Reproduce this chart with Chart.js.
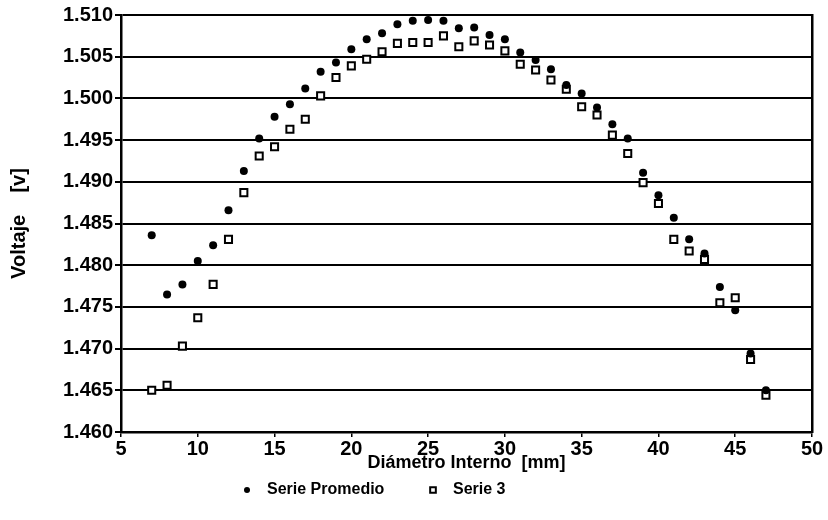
<!DOCTYPE html>
<html>
<head>
<meta charset="utf-8">
<script src="https://cdn.jsdelivr.net/npm/chart.js@4/dist/chart.umd.min.js"></script>
<style>
  html, body { margin: 0; padding: 0; background: #fff; }
  #wrap { width: 828px; height: 520px; }
</style>
</head>
<body>
<div id="wrap"><canvas id="voltChart" width="828" height="520"></canvas></div>
<script>
// --------------------
// Data
// --------------------
const diametros = [7, 8, 9, 10, 11, 12, 13, 14, 15, 16, 17, 18, 19, 20, 21, 22, 23, 24, 25, 26, 27,
  28, 29, 30, 31, 32, 33, 34, 35, 36, 37, 38, 39, 40, 41, 42, 43, 44, 45, 46, 47];

const seriePromedio = [1.4836, 1.4765, 1.4777, 1.4805, 1.4824, 1.4866, 1.4913, 1.4952, 1.4978, 1.4993,
  1.5012, 1.5032, 1.5043, 1.5059, 1.5071, 1.5078, 1.5089, 1.5093, 1.5094, 1.5093, 1.5084,
  1.5085, 1.5076, 1.5071, 1.5055, 1.5046, 1.5035, 1.5016, 1.5006, 1.4989, 1.4969, 1.4952,
  1.4911, 1.4884, 1.4857, 1.4831, 1.4814, 1.4774, 1.4746, 1.4694, 1.4650];

const serie3 = [1.4650, 1.4656, 1.4703, 1.4737, 1.4777, 1.4831, 1.4887, 1.4931, 1.4942, 1.4963,
  1.4975, 1.5003, 1.5025, 1.5039, 1.5047, 1.5056, 1.5066, 1.5067, 1.5067, 1.5075, 1.5062,
  1.5069, 1.5064, 1.5057, 1.5041, 1.5034, 1.5022, 1.5011, 1.4990, 1.4980, 1.4956, 1.4934,
  1.4899, 1.4874, 1.4831, 1.4817, 1.4807, 1.4755, 1.4761, 1.4687, 1.4644];

const X_MIN = 5, X_MAX = 50, X_STEP = 5;
const Y_MIN = 1.460, Y_MAX = 1.510, Y_STEP = 0.005;

const FONT = '"Liberation Sans", Arial, sans-serif';

function toPoints(xs, ys) {
  return xs.map((x, i) => ({ x: x, y: ys[i] }));
}

// --------------------
// Legend under the axis title (drawn by hand so the spacing stays tight)
// --------------------
const bottomLegend = {
  id: "bottomLegend",
  afterDraw(chart, args, opts) {
    const c = chart.ctx;
    c.save();
    chart.data.datasets.forEach((ds, i) => {
      const x = opts.xs[i];
      c.fillStyle = ds.backgroundColor;
      c.strokeStyle = ds.borderColor;
      c.lineWidth = ds.borderWidth;
      Chart.helpers.drawPoint(c, {
        pointStyle: ds.pointStyle,
        radius: opts.radius[i],
        borderWidth: ds.borderWidth,
        rotation: 0
      }, x, opts.y);
      c.fillStyle = "#000";
      c.font = "bold 16px " + FONT;
      c.textBaseline = "middle";
      c.fillText(ds.label, x + 20, opts.y);
    });
    c.restore();
  }
};

// --------------------
// Chart
// --------------------
const ctx = document.getElementById("voltChart").getContext("2d");

new Chart(ctx, {
  type: "scatter",
  data: {
    datasets: [
      {
        label: "Serie Promedio",
        data: toPoints(diametros, seriePromedio),
        pointStyle: "circle",
        pointRadius: 4,
        backgroundColor: "#000",
        borderColor: "#000",
        borderWidth: 0
      },
      {
        label: "Serie 3",
        data: toPoints(diametros, serie3),
        pointStyle: "rect",
        pointRadius: 5,
        backgroundColor: "#fff",
        borderColor: "#000",
        borderWidth: 2
      }
    ]
  },
  options: {
    responsive: false,
    animation: false,
    layout: { padding: { top: 15, right: 16, left: 0, bottom: 38 } },
    plugins: {
      tooltip: { enabled: false },
      legend: { display: false },
      bottomLegend: { xs: [247, 433], y: 490, radius: [3, 4] }
    },
    scales: {
      x: {
        type: "linear",
        min: X_MIN,
        max: X_MAX,
        ticks: {
          stepSize: X_STEP,
          color: "#000",
          padding: 0,
          font: { family: FONT, size: 20, weight: "bold" }
        },
        grid: {
          drawOnChartArea: false,
          drawTicks: true,
          tickLength: 5,
          color: "#000",
          lineWidth: 1.5
        },
        border: { display: true, color: "#000", width: 2.5 },
        title: {
          display: true,
          text: "Diámetro Interno  [mm]",
          color: "#000",
          padding: { top: 0, bottom: 8 },
          font: { family: FONT, size: 18, weight: "bold" }
        },
        afterFit: (scale) => { scale.height = 50; }
      },
      y: {
        type: "linear",
        min: Y_MIN,
        max: Y_MAX,
        ticks: {
          stepSize: Y_STEP,
          color: "#000",
          padding: 2,
          font: { family: FONT, size: 20, weight: "bold" },
          callback: (v) => v.toFixed(3)
        },
        grid: {
          color: "#000",
          lineWidth: 2,
          tickLength: 6
        },
        border: { display: true, color: "#000", width: 2.5 },
        title: {
          display: true,
          text: "Voltaje    [v]",
          color: "#000",
          padding: { top: 7, bottom: 0 },
          font: { family: FONT, size: 20, weight: "bold" }
        },
        afterFit: (scale) => { scale.width = 121; }
      },
      yRight: {
        type: "linear",
        position: "right",
        min: Y_MIN,
        max: Y_MAX,
        ticks: { display: false },
        grid: { display: false },
        border: { display: true, color: "#000", width: 2.5 },
        afterFit: (scale) => { scale.width = 0; }
      }
    }
  },
  plugins: [bottomLegend]
});
</script>
</body>
</html>
